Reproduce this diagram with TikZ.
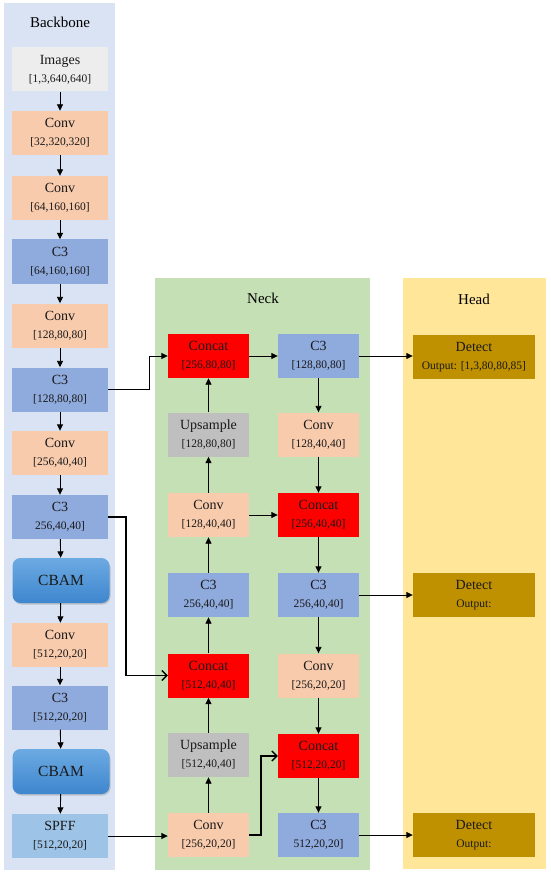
\documentclass[tikz,border=0pt]{standalone}
\usepackage{fontspec}
\setmainfont{Liberation Serif}
\usetikzlibrary{arrows.meta,shadows}
\definecolor{bbpanel}{HTML}{DAE3F3}
\definecolor{nkpanel}{HTML}{C5E0B4}
\definecolor{hdpanel}{HTML}{FFE699}
\definecolor{imgfill}{HTML}{EDEDED}
\definecolor{convfill}{HTML}{F8CBAD}
\definecolor{cthreefill}{HTML}{8FAADC}
\definecolor{spffill}{HTML}{9DC3E6}
\definecolor{catfill}{HTML}{FF0000}
\definecolor{upfill}{HTML}{BFBFBF}
\definecolor{detfill}{HTML}{BF9000}
\definecolor{cbamtop}{HTML}{6CAAE2}
\definecolor{cbambot}{HTML}{3E86CE}
\newcommand{\subl}[1]{{\fontsize{11.5}{12}\selectfont #1}}
\begin{document}
\begin{tikzpicture}[x=1pt,y=-1pt,
  ttl/.style={font=\fontsize{15}{16}\selectfont},
  blk/.style={rectangle, draw=none, inner sep=0pt, minimum height=44pt, align=center,
    font=\fontsize{14}{18}\selectfont, text=black!90},
  bbox/.style={blk, minimum width=96pt},
  nbox/.style={blk, minimum width=81pt},
  hbox/.style={blk, minimum width=122pt, fill=detfill},
  cbam/.style={rectangle, rounded corners=8pt, minimum width=97pt, minimum height=45pt,
    top color=cbamtop, bottom color=cbambot, draw=none,
    drop shadow={opacity=0.35, shadow xshift=1pt, shadow yshift=-1.5pt},
    font=\fontsize{15.5}{16}\selectfont, text=black!90},
  arr/.style={draw=black, line width=0.9pt, -{Triangle[length=6.5pt,width=6pt]}},
  oarr/.style={draw=black, line width=1.3pt, -{Straight Barb[length=5pt,width=10pt]}}
]
\useasboundingbox (0,0) rectangle (550,874);
\fill[white] (0,0) rectangle (550,874);
% panels
\fill[bbpanel] (4,3) rectangle (115,870);
\fill[nkpanel] (155,278) rectangle (370,870);
\fill[hdpanel] (403,278) rectangle (546,869);
\node[ttl] (tbb) at (60,22) {Backbone};
\node[ttl] (tnk) at (263,298) {Neck};
\node[ttl] (thd) at (474,299) {Head};
% backbone
\node[bbox, fill=imgfill] (bimg) at (60,69.5) {Images\\\subl{[1,3,640,640]}};
\node[bbox, fill=convfill] (bconv1) at (60,133) {Conv\\\subl{[32,320,320]}};
\node[bbox, fill=convfill] (bconv2) at (60,198) {Conv\\\subl{[64,160,160]}};
\node[bbox, fill=cthreefill] (bc31) at (60,261.5) {C3\\\subl{[64,160,160]}};
\node[bbox, fill=convfill] (bconv3) at (60,325.5) {Conv\\\subl{[128,80,80]}};
\node[bbox, fill=cthreefill] (bc32) at (60,389.5) {C3\\\subl{[128,80,80]}};
\node[bbox, fill=convfill] (bconv4) at (60,453) {Conv\\\subl{[256,40,40]}};
\node[bbox, fill=cthreefill] (bc33) at (60,517) {C3\\\subl{256,40,40]}};
\node[cbam] (bcbam1) at (61,580.5) {CBAM};
\node[bbox, fill=convfill] (bconv5) at (60,645) {Conv\\\subl{[512,20,20]}};
\node[bbox, fill=cthreefill] (bc34) at (60,707.5) {C3\\\subl{[512,20,20]}};
\node[cbam] (bcbam2) at (61,771.5) {CBAM};
\node[bbox, fill=spffill] (bspff) at (60,836) {SPFF\\\subl{[512,20,20]}};
\foreach \a/\b in {bimg/bconv1,bconv1/bconv2,bconv2/bc31,bc31/bconv3,bconv3/bc32,bc32/bconv4,bconv4/bc33,bc33/bcbam1,bcbam1/bconv5,bconv5/bc34,bc34/bcbam2,bcbam2/bspff}
  \draw[arr] (\a) -- (\b);
% neck left column
\node[nbox, fill=catfill] (ncat1) at (208.5,356) {Concat\\\subl{[256,80,80]}};
\node[nbox, fill=upfill] (nup1) at (208.5,434.5) {Upsample\\\subl{[128,80,80]}};
\node[nbox, fill=convfill] (nconvl1) at (208.5,515) {Conv\\\subl{[128,40,40]}};
\node[nbox, fill=cthreefill] (nc3l) at (208.5,595) {C3\\\subl{256,40,40]}};
\node[nbox, fill=catfill] (ncat2) at (208.5,675.5) {Concat\\\subl{[512,40,40]}};
\node[nbox, fill=upfill] (nup2) at (208.5,755) {Upsample\\\subl{[512,40,40]}};
\node[nbox, fill=convfill] (nconvl2) at (208.5,835) {Conv\\\subl{[256,20,20]}};
% neck right column
\node[nbox, fill=cthreefill] (nc3r1) at (318.5,356) {C3\\\subl{[128,80,80]}};
\node[nbox, fill=convfill] (nconvr1) at (318.5,434.5) {Conv\\\subl{[128,40,40]}};
\node[nbox, fill=catfill] (ncat3) at (318.5,515) {Concat\\\subl{[256,40,40]}};
\node[nbox, fill=cthreefill] (nc3r2) at (318.5,595) {C3\\\subl{256,40,40]}};
\node[nbox, fill=convfill] (nconvr2) at (318.5,675.5) {Conv\\\subl{[256,20,20]}};
\node[nbox, fill=catfill] (ncat4) at (318.5,756) {Concat\\\subl{[512,20,20]}};
\node[nbox, fill=cthreefill] (nc3r3) at (318.5,835) {C3\\\subl{512,20,20]}};
\foreach \a/\b in {nconvl2/nup2,nup2/ncat2,ncat2/nc3l,nc3l/nconvl1,nconvl1/nup1,nup1/ncat1,nc3r1/nconvr1,nconvr1/ncat3,ncat3/nc3r2,nc3r2/nconvr2,nconvr2/ncat4,ncat4/nc3r3}
  \draw[arr] (\a) -- (\b);
\draw[arr] (ncat1) -- (nc3r1);
\draw[arr] (nconvl1) -- (ncat3);
% head
\node[hbox] (hdet1) at (474,357) {Detect\\\subl{Output: [1,3,80,80,85]}};
\node[hbox] (hdet2) at (474,595) {Detect\\\subl{Output:}};
\node[hbox] (hdet3) at (474,835) {Detect\\\subl{Output:}};
\draw[arr] (nc3r1.east) -- (hdet1.west |- nc3r1.east);
\draw[arr] (nc3r2.east) -- (hdet2.west |- nc3r2.east);
\draw[arr] (nc3r3.east) -- (hdet3.west |- nc3r3.east);
% cross connections
\coordinate (k1) at (149,389.5);
\draw[arr] (bc32.east) -- (k1) |- (ncat1.west);
\coordinate (k2) at (126,517);
\draw[oarr] (bc33.east) -- (k2) |- (ncat2.west);
\draw[arr] (bspff.east) -- (nconvl2.west |- bspff.east);
\coordinate (k3) at (261,835);
\draw[oarr] (nconvl2.east) -- (k3) |- (ncat4.west);
\end{tikzpicture}
\end{document}
